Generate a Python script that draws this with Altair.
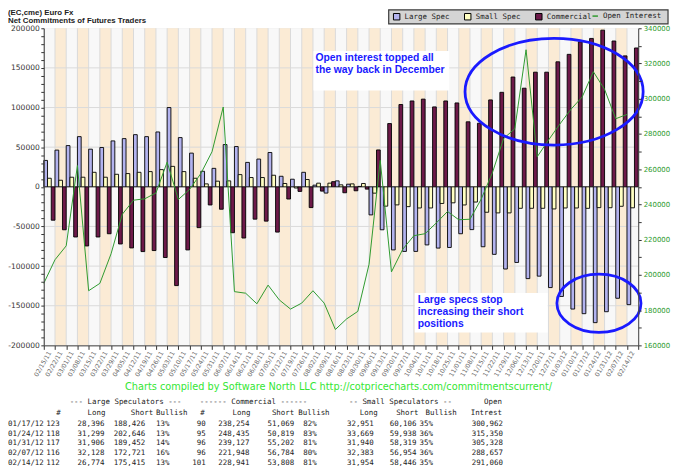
import altair as alt
import pandas as pd

# ---------------- data ----------------
dates = ["02/15/11", "02/22/11", "03/01/11", "03/08/11", "03/15/11", "03/22/11", "03/29/11",
         "04/05/11", "04/12/11", "04/19/11", "04/26/11", "05/03/11", "05/10/11", "05/17/11",
         "05/24/11", "05/31/11", "06/07/11", "06/14/11", "06/21/11", "06/28/11", "07/05/11",
         "07/12/11", "07/19/11", "07/26/11", "08/02/11", "08/09/11", "08/16/11", "08/23/11",
         "08/30/11", "09/06/11", "09/13/11", "09/20/11", "09/27/11", "10/04/11", "10/11/11",
         "10/18/11", "10/25/11", "11/01/11", "11/08/11", "11/15/11", "11/22/11", "11/29/11",
         "12/06/11", "12/13/11", "12/20/11", "12/27/11", "01/03/12", "01/10/12", "01/17/12",
         "01/24/12", "01/31/12", "02/07/12", "02/14/12"]

large_spec = [33300, 46300, 52000, 63300, 47500, 49600, 57900, 60800, 65800, 63300,
              69200, 100000, 62100, 42500, 19600, 23300, 53300, 50800, 30800, 35000,
              43300, 13300, 9600, 18300, 2100, -7900, 7500, 3300, 500, -35400,
              -54200, -79600, -81500, -81500, -73300, -77300, -76500, -59200, -54000, -75600,
              -85200, -103700, -95400, -115800, -112700, -127100, -138300, -154200, -160030, -171347,
              -157546, -140593, -148641]

small_spec = [10800, 8300, 12100, 12100, 18300, 12100, 15800, 16700, 18300, 19200,
              21700, 25800, 19200, 10800, 3700, 7100, 7500, 15400, 11700, 11700,
              14600, 4200, -1500, 9200, 4600, 4600, 2500, 3700, 4200, -8000,
              -24400, -22800, -25000, -26700, -26700, -21000, -20200, -22900, -19200, -32100,
              -32900, -32900, -27100, -27100, -27100, -27900, -26700, -26700, -27155, -26269,
              -26379, -24571, -26492]

commercial = [-42100, -54200, -63300, -74600, -63300, -59200, -72100, -77100, -81700, -80400,
              -89200, -124600, -79600, -51500, -22900, -28300, -57900, -64600, -40800, -43300,
              -57100, -15400, -5800, -26200, -5400, 6500, -7500, -5000, -2900, 46500,
              79800, 103800, 108300, 110600, 100800, 108300, 105800, 82000, 80200, 109600,
              119200, 138500, 124400, 144600, 144600, 157700, 167100, 182900, 187185, 197616,
              183925, 165164, 175133]

open_interest = [195200, 208600, 216500, 262100, 191000, 195200, 212000, 234400, 242400, 243200,
                 246500, 264000, 242800, 248500, 257500, 269900, 295300, 190500, 189600, 183600,
                 194200, 185800, 180600, 184000, 191000, 184000, 169000, 175000, 179300, 206000,
                 265000, 201700, 214500, 222250, 223400, 229500, 236000, 231300, 231600, 243000,
                 258000, 277400, 283000, 327800, 267100, 276500, 285500, 294000, 300962, 315350,
                 305328, 288657, 291060]

series_names = ["Large Spec", "Small Spec", "Commercial"]
oi_name = "Open Interest"

# table below the chart
tbl_dates = ["01/17/12", "01/24/12", "01/31/12", "02/07/12", "02/14/12"]
ls_traders = [123, 118, 117, 116, 112]
ls_long = [28396, 31299, 31906, 32128, 26774]
ls_short = [188426, 202646, 189452, 172721, 175415]
ls_bull = [13, 13, 14, 16, 13]
c_traders = [90, 95, 96, 96, 101]
c_long = [238254, 248435, 239127, 221948, 228941]
c_short = [51069, 50819, 55202, 56784, 53808]
c_bull = [82, 83, 81, 80, 81]
s_long = [32951, 33669, 31940, 32383, 31954]
s_short = [60106, 59938, 58319, 56954, 58446]
s_bull = [35, 36, 35, 36, 35]
oi_tbl = [300962, 315350, 305328, 288657, 291060]

# ---------------- styles / layout ----------------
C_LARGE, C_SMALL, C_COMM = "#b3b3ef", "#ffffc2", "#6d1949"
C_OI = "#2f9a2f"
C_NOTE = "#1a1aff"
W, H = 598, 319
X0, Y0 = 44, 27          # page position of the plot origin


def px(x):
    return x - X0


def py(y):
    return y - Y0


def fmt(v):
    return f"{v:,}"


one = pd.DataFrame({"k": [0]})

bars_df = pd.DataFrame([
    {"date": d, "series": name, "value": vals[i]}
    for i, d in enumerate(dates)
    for name, vals in zip(series_names, [large_spec, small_spec, commercial])
])
oi_df = pd.DataFrame({"date": dates, "series": oi_name, "oi": open_interest})
band_df = pd.DataFrame({"date": dates, "shade": ["odd" if i % 2 else "even" for i in range(len(dates))]})

xscale = alt.Scale(domain=dates, paddingInner=0, paddingOuter=0)
x_axis = alt.Axis(tickBand="extent", labelAngle=300, labelAlign="right", labelBaseline="middle",
                  labelFont="DejaVu Sans", labelFontSize=6.3, labelColor="#666666", labelPadding=2,
                  tickSize=4, tickColor="#333333", domainColor="#444444", grid=False,
                  labelOverlap=False, zindex=1, title=None)
yl_scale = alt.Scale(domain=[-200000, 200000], nice=False, zero=False)
yl_axis = alt.Axis(orient="left", values=list(range(-200000, 200001, 10000)),
                   labelExpr="datum.value % 50000 === 0 ? '' + datum.value : ''",
                   labelFont="DejaVu Sans", labelFontSize=7.6, labelColor="#333333", labelPadding=1.5,
                   tickSize=3, tickColor="#333333", domainColor="#444444", grid=False,
                   labelOverlap=False, zindex=1, title=None)
yr_scale = alt.Scale(domain=[160000, 340000], nice=False, zero=False)
yr_axis = alt.Axis(orient="right", values=list(range(160000, 340001, 10000)),
                   labelExpr="datum.value % 20000 === 0 ? '' + datum.value : ''",
                   labelFont="DejaVu Sans", labelFontSize=7, labelColor="#2e9a2e", labelPadding=2,
                   tickSize=3, tickColor="#333333", domainColor="#444444", grid=False,
                   labelOverlap=False, zindex=1, title=None)

X = alt.X("date:N", scale=xscale, axis=x_axis)

bands = alt.Chart(band_df).mark_rect().encode(
    x=X, y=alt.value(0), y2=alt.value(H),
    color=alt.Color("shade:N", scale=alt.Scale(domain=["even", "odd"], range=["#f8f8f8", "#fbebd5"]),
                    legend=None),
)
vgrid = alt.Chart(band_df).mark_rule(color="#dadada", strokeWidth=1).encode(
    x=alt.X("date:N", scale=xscale, axis=x_axis, bandPosition=0),
    y=alt.value(0), y2=alt.value(H),
)
hgrid = alt.Chart(pd.DataFrame({"g": [-150000, -100000, -50000, 0, 50000, 100000, 150000]})).mark_rule(
    color="#dadada", strokeWidth=1).encode(
    y=alt.Y("g:Q", scale=yl_scale, axis=yl_axis, title=None),
    x=alt.value(0), x2=alt.value(W),
)

bar_legend = alt.Legend(orient="none", legendX=351, legendY=-16, direction="horizontal", title=None,
                        symbolType="square", symbolSize=42, symbolStrokeColor="#000000",
                        symbolStrokeWidth=1, labelFont="DejaVu Sans Mono", labelFontSize=7.5,
                        labelColor="#222222", labelOffset=4, columnPadding=11.5, padding=0,
                        zindex=1, labelLimit=200)
oi_legend = alt.Legend(orient="none", legendX=551, legendY=-16, direction="horizontal", title=None,
                       symbolType="stroke", symbolSize=30, symbolStrokeWidth=1.5,
                       labelFont="DejaVu Sans Mono", labelFontSize=7.5, labelColor="#222222",
                       labelOffset=4, padding=0, zindex=1, labelLimit=200)

bars = alt.Chart(bars_df).mark_bar(stroke="#000000", strokeWidth=0.9).encode(
    x=X,
    xOffset=alt.XOffset("series:N", scale=alt.Scale(domain=series_names, paddingInner=0, paddingOuter=0)),
    y=alt.Y("value:Q", scale=yl_scale, axis=yl_axis, title=None),
    fill=alt.Fill("series:N", scale=alt.Scale(domain=series_names, range=[C_LARGE, C_SMALL, C_COMM]),
                  legend=bar_legend),
)

left = alt.layer(bands, vgrid, hgrid, bars)

line = alt.Chart(oi_df).mark_line(strokeWidth=1).encode(
    x=alt.X("date:N", scale=xscale, axis=x_axis, bandPosition=0),
    y=alt.Y("oi:Q", scale=yr_scale, axis=yr_axis, title=None),
    stroke=alt.Stroke("series:N", scale=alt.Scale(domain=[oi_name], range=[C_OI]), legend=oi_legend),
)


def ellipse_path(k):
    c = 0.5523
    return (f"M -1 0 C -1 {-c * k:.4f} {-c} {-k:.4f} 0 {-k:.4f} "
            f"C {c} {-k:.4f} 1 {-c * k:.4f} 1 0 "
            f"C 1 {c * k:.4f} {c} {k:.4f} 0 {k:.4f} "
            f"C {-c} {k:.4f} -1 {c * k:.4f} -1 0 Z")


def ellipse(date, value, rx, ry):
    return alt.Chart(pd.DataFrame({"date": [date], "v": [value]})).mark_point(
        shape=ellipse_path(ry / rx), size=4 * rx * rx, filled=False, stroke=C_NOTE,
        strokeWidth=2.8, opacity=1).encode(
        x=X, y=alt.Y("v:Q", scale=alt.Scale(domain=[-200000, 200000], nice=False, zero=False), axis=None))


def box(x1, x2, y1, y2, fill="white", stroke=None, sw=1):
    kw = dict(fill=fill)
    if stroke:
        kw.update(stroke=stroke, strokeWidth=sw)
    return alt.Chart(one).mark_rect(**kw).encode(
        x=alt.value(x1), x2=alt.value(x2), y=alt.value(y1), y2=alt.value(y2))


def txt(s, x, y, size, color="#222222", font="DejaVu Sans Mono", weight="normal",
        align="left", baseline="middle", line_height=None):
    mk = dict(align=align, baseline=baseline, font=font, fontSize=size, fontWeight=weight, color=color)
    if "\n" in s:
        mk["lineBreak"] = "\n"
        mk["lineHeight"] = line_height
    return alt.Chart(pd.DataFrame({"t": [s]})).mark_text(**mk).encode(
        text="t:N", x=alt.value(x), y=alt.value(y))


NOTE_FONT = "Liberation Sans"
annotations = [
    box(271.3, 407.9, 22.9, 62.6),
    txt("Open interest topped all", 273.3, 29.8, 10.4, C_NOTE, NOTE_FONT, "bold"),
    txt("the way back in December", 273.3, 42.0, 10.4, C_NOTE, NOTE_FONT, "bold"),
    box(373.2, 507.0, 266.3, 306.1),
    txt("Large specs stop", 376.2, 273.3, 10.4, C_NOTE, NOTE_FONT, "bold"),
    txt("increasing their short", 376.2, 285.2, 10.4, C_NOTE, NOTE_FONT, "bold"),
    txt("positions", 376.2, 297.1, 10.4, C_NOTE, NOTE_FONT, "bold"),
    ellipse("12/27/11", 120000, 89.6, 53.7),
    ellipse("01/24/12", -147000, 42.3, 29.3),
]

chrome = [
    box(347, 628, -18.5, -4.5, fill="#d4d4d4", stroke="#3a3a3a", sw=1.2),
    txt("(EC,cme) Euro Fx", px(8), py(11.5), 7.9, "#222222", "Liberation Sans", "bold"),
    txt("Net Commitments of Futures Traders", px(8), py(19.5), 7.9, "#222222", "Liberation Sans", "bold"),
    txt("Charts compiled by Software North LLC  http://cotpricecharts.com/commitmentscurrent/",
        px(340.5), py(388), 9.8, "#33e633", "DejaVu Sans", align="center"),
]

TF = 7.5
LH = 9.75
row_top = py(425 - 3.9)
table_cols = [
    (tbl_dates, 8, "left"),
    ([str(v) for v in ls_traders], 60, "right"),
    ([fmt(v) for v in ls_long], 105, "right"),
    ([fmt(v) for v in ls_short], 146, "right"),
    ([f"{v}%" for v in ls_bull], 157, "left"),
    ([str(v) for v in c_traders], 207, "right"),
    ([fmt(v) for v in c_long], 251, "right"),
    ([fmt(v) for v in c_short], 296, "right"),
    ([f"{v}%" for v in c_bull], 305, "left"),
    ([fmt(v) for v in s_long], 376, "right"),
    ([fmt(v) for v in s_short], 419, "right"),
    ([f"{v}%" for v in s_bull], 422, "left"),
    ([fmt(v) for v in oi_tbl], 506, "right"),
]
table = [txt("\n".join(vals), px(x), row_top, TF, "#222222", align=al, baseline="top", line_height=LH)
         for vals, x, al in table_cols]
header2 = [("#", 61, "right"), ("Long", 106, "right"), ("Short", 154, "right"), ("Bullish", 157, "left"),
           ("#", 206, "right"), ("Long", 252, "right"), ("Short", 296, "right"), ("Bullish", 300, "left"),
           ("Long", 380, "right"), ("Short", 421, "right"), ("Bullish", 428, "left"), ("Intrest", 505, "right")]
header1 = [("--- Large Speculators ---", 70, "left"), ("------ Commercial ------", 201, "left"),
           ("-- Small Speculators --", 351, "left"), ("Open", 505, "right")]
table += [txt(s, px(x), py(414), TF, "#222222", align=al) for s, x, al in header2]
table += [txt(s, px(x), py(403), TF, "#222222", align=al) for s, x, al in header1]

chart = alt.layer(left, line, *annotations, *chrome, *table).resolve_scale(
    y="independent"
).properties(
    width=W, height=H,
    padding={"left": 36, "top": 19, "right": 34, "bottom": 124},
    autosize=alt.AutoSizeParams(type="none"),
).configure_view(stroke="#c8c8c8").configure(background="white")

chart.save("out.html", embed_options={"renderer": "svg", "actions": False})
